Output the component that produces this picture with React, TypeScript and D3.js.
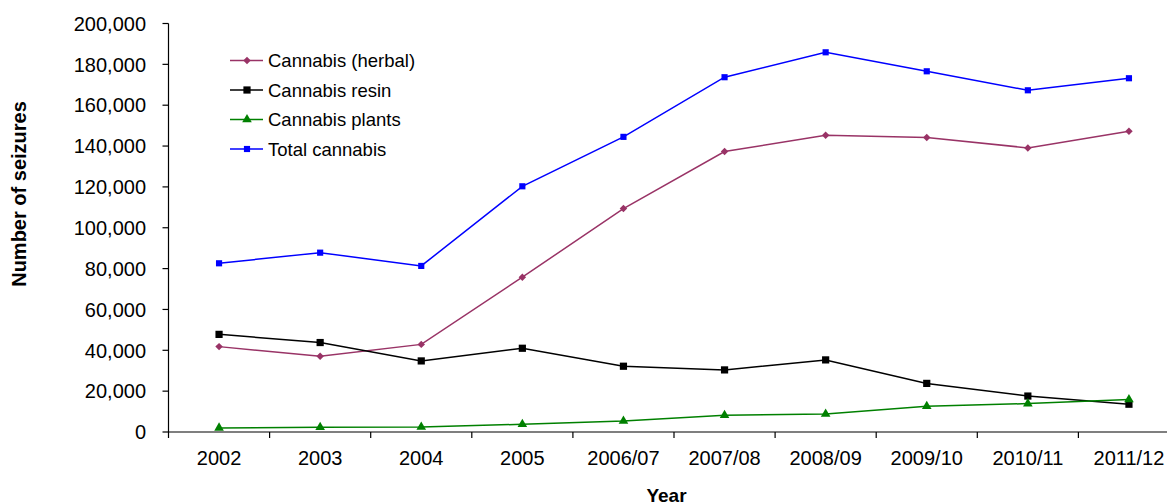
import React from "react";
import * as d3 from "d3";

const years = ["2002", "2003", "2004", "2005", "2006/07", "2007/08", "2008/09", "2009/10", "2010/11", "2011/12"];
const herbal = [41800, 37100, 42900, 75800, 109400, 137300, 145300, 144200, 139100, 147300];
const resin = [47800, 43800, 34800, 41000, 32200, 30400, 35300, 23800, 17600, 13600];
const plants = [2000, 2300, 2400, 3800, 5400, 8200, 8800, 12600, 13900, 15900];
const total = [82600, 87800, 81300, 120300, 144500, 173700, 185900, 176600, 167300, 173200];
const yTicks = [0, 20000, 40000, 60000, 80000, 100000, 120000, 140000, 160000, 180000, 200000];

type Series = { name: string; values: number[]; color: string; marker: "diamond" | "square" | "triangle"; size: number };

const series: Series[] = [
  { name: "Cannabis (herbal)", values: herbal, color: "#993366", marker: "diamond", size: 28 },
  { name: "Cannabis resin", values: resin, color: "#000000", marker: "square", size: 52 },
  { name: "Cannabis plants", values: plants, color: "#008000", marker: "triangle", size: 40 },
  { name: "Total cannabis", values: total, color: "#0000FF", marker: "square", size: 38 },
];

const W = 1167;
const H = 504;
const left = 168.5;
const bandW = 101.1;
const y0 = 432;
const yTop = 23.5;
const font = "'Liberation Sans', Arial, sans-serif";

// diamonds are squares turned by 45 degrees, so they stay as wide as they are tall
const symbolType = { diamond: d3.symbolSquare, square: d3.symbolSquare, triangle: d3.symbolTriangle };
const symbolRotate = { diamond: 45, square: 0, triangle: 0 };

export default function App() {
  const x = d3.scaleBand<string>().domain(years).range([left, left + bandW * years.length]);
  const y = d3.scaleLinear().domain([0, 200000]).range([y0, yTop]);
  const fmt = d3.format(",");
  const cx = (i: number) => x(years[i])! + x.bandwidth() / 2;
  const line = (vals: number[]) =>
    d3.line<number>().x((_, i) => cx(i)).y((v) => y(v))(vals) || "";
  const sym = (s: Series) => d3.symbol().type(symbolType[s.marker]).size(s.size)() || "";

  return (
    <svg width={W} height={H} style={{ position: "absolute", left: 0, top: 0, background: "#fff" }} fontFamily={font}>
      {/* y axis */}
      <line x1={left} x2={left} y1={yTop} y2={y0} stroke="#000" strokeWidth={1.2} />
      {yTicks.map((t) => (
        <g key={t}>
          <line x1={left - 6} x2={left} y1={y(t)} y2={y(t)} stroke="#000" strokeWidth={1.2} />
          <text x={146} y={y(t)} dy="0.36em" textAnchor="end" fontSize={20} fill="#000">
            {fmt(t)}
          </text>
        </g>
      ))}
      {/* x axis */}
      <line x1={left} x2={left + bandW * years.length} y1={y0} y2={y0} stroke="#000" strokeWidth={1.2} />
      {years.map((c) => (
        <g key={c}>
          <line x1={x(c)!} x2={x(c)!} y1={y0} y2={y0 + 6} stroke="#000" strokeWidth={1.2} />
          <text x={x(c)! + x.bandwidth() / 2} y={465} textAnchor="middle" fontSize={20} fill="#000">
            {c}
          </text>
        </g>
      ))}
      {/* axis titles */}
      <text
        transform={`translate(25.5,194) rotate(-90)`}
        textAnchor="middle"
        fontSize={20}
        fontWeight="bold"
        fill="#000"
      >
        Number of seizures
      </text>
      <text x={666.5} y={502} textAnchor="middle" fontSize={19} fontWeight="bold" fill="#000">
        Year
      </text>
      {/* series */}
      {series.map((s) => (
        <g key={s.name}>
          <path d={line(s.values)} fill="none" stroke={s.color} strokeWidth={1.5} />
          {s.values.map((v, i) => (
            <path
              key={i}
              d={sym(s)}
              transform={`translate(${cx(i)},${y(v)}) rotate(${symbolRotate[s.marker]})`}
              fill={s.color}
            />
          ))}
        </g>
      ))}
      {/* legend */}
      {series.map((s, i) => {
        const ly = 60.5 + i * 29.5;
        return (
          <g key={s.name}>
            <line x1={230} x2={263} y1={ly} y2={ly} stroke={s.color} strokeWidth={1.5} />
            <path d={sym(s)} transform={`translate(247,${ly}) rotate(${symbolRotate[s.marker]})`} fill={s.color} />
            <text x={268} y={ly} dy="0.36em" fontSize={18.5} fill="#000">
              {s.name}
            </text>
          </g>
        );
      })}
    </svg>
  );
}
